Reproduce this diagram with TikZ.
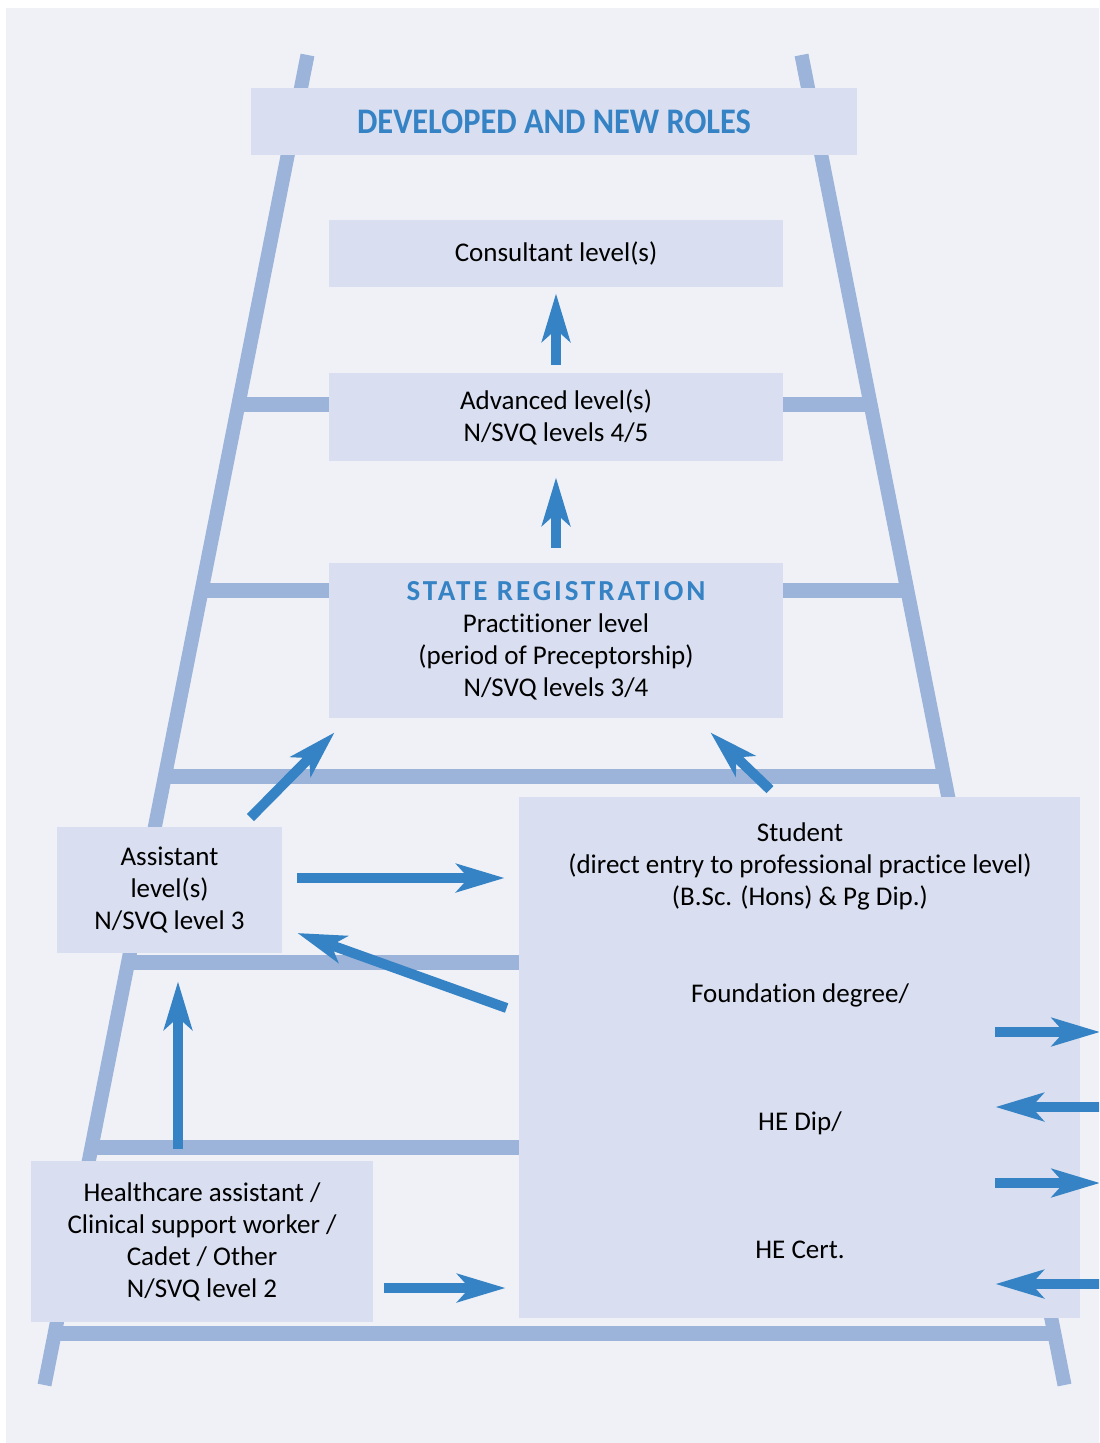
\documentclass[tikz,border=0pt]{standalone}
\usepackage{fontspec}
\setmainfont{Carlito}[Ligatures=NoCommon]
\newfontfamily\headfont[FakeStretch=0.9]{Carlito}
\newfontfamily\regfont[LetterSpace=10]{Carlito}
\usetikzlibrary{arrows.meta,calc,positioning}
\definecolor{paper}{HTML}{EFF1F7}
\definecolor{panel}{HTML}{D9DFF0}
\definecolor{rail}{HTML}{9CB3DA}
\definecolor{flow}{HTML}{3583C5}
\tikzset{
  every node/.style={font=\fontsize{13.5}{16}\selectfont,text=black},
  box/.style={fill=panel,align=center,inner sep=0pt},
  plain/.style={align=center,inner sep=0pt},
  railline/.style={draw=rail,line width=7pt},
  rungline/.style={draw=rail,line width=7.5pt},
  bigarr/.style={draw=flow,line width=5pt,-{Stealth[length=24pt,width=14pt,inset=6pt]}},
}
\begin{document}
\begin{tikzpicture}[x=0.5pt,y=-0.5pt]
\clip (0,0) rectangle (1099,1443);
\fill[paper] (6,8) rectangle (1099,1443);

% ---------- ladder ----------
\coordinate (lt) at (307.5,55);
\coordinate (lb) at (44.5,1385);
\coordinate (rt) at (801.5,55);
\coordinate (rb) at (1064.5,1385);
\foreach \y in {405,591,777,962.5,1148,1334}
  \draw[rungline] ($(lt)!{(\y-55)/1330}!(lb)$) -- ($(rt)!{(\y-55)/1330}!(rb)$);
\draw[railline] (lt) -- (lb);
\draw[railline] (rt) -- (rb);

% ---------- boxes ----------
\node[box,minimum width=303pt,minimum height=33.5pt] (title) at (554,121.5)
  {\headfont\bfseries\fontsize{18}{20}\selectfont\color{flow}DEVELOPED AND NEW ROLES};
\node[box,minimum width=227pt,minimum height=33.5pt] (cons) at (556,253.5) {Consultant level(s)};
\node[box,minimum width=227pt,minimum height=44pt] (adv) at (556,417) {Advanced level(s)\\N/SVQ levels 4/5};
\node[box,minimum width=227pt,minimum height=77.5pt] (reg) at (556,640.5)
  {{\regfont\bfseries\fontsize{14.5}{16}\selectfont\color{flow}STATE REGISTRATION}\\Practitioner level\\(period of Preceptorship)\\N/SVQ levels 3/4};
\node[box,minimum width=112.5pt,minimum height=63pt] (asst) at (169.5,890) {Assistant\\level(s)\\N/SVQ level 3};
\node[box,minimum width=280.5pt,minimum height=260.5pt] (stud) at (799.5,1057.5) {};
\node[box,minimum width=171pt,minimum height=80.5pt] (hca) at (202,1241.5)
  {Healthcare assistant /\\Clinical support worker /\\Cadet / Other\\N/SVQ level 2};

\node[plain] (studtop) at (800,866) {Student\\(direct entry to professional practice level)\\(B.Sc. (Hons) \& Pg Dip.)};
\node[plain,anchor=base] (fd) at (800,1002) {Foundation degree/};
\node[plain,anchor=base] (hedip) at (800,1130) {HE Dip/};
\node[plain,anchor=base] (hecert) at (800,1258) {HE Cert.};

% ---------- arrows ----------
\draw[bigarr,shorten <=4pt,shorten >=3pt] (adv.north) -- (cons.south);
\draw[bigarr,shorten <=7.5pt,shorten >=8pt] (reg.north) -- (adv.south);
\draw[bigarr] ($(asst.north east)+(-32,-9)$) -- ($(reg.south west)+(6,14)$);
\draw[bigarr] ($(stud.north)+(-29.5,-7)$) -- ($(reg.south east)+(-73,14)$);
\draw[bigarr] ($(asst.east)+(15,-12)$) -- ($(stud.west)+(-14,-179.5)$);
\draw[bigarr] ($(stud.west)+(-12,-49.5)$) -- ($(asst.east)+(15,43)$);
\draw[bigarr] ($(hca.north)+(-24,-12)$) -- ($(asst.south)+(8.5,28)$);
\draw[bigarr] ($(hca.east)+(11,46.5)$) -- ($(stud.west)+(-13,230.5)$);

\coordinate (out1) at (1100,1032);
\coordinate (in1) at (1110,1107);
\coordinate (out2) at (1100,1183);
\coordinate (in2) at (1110,1284);
\draw[bigarr] ($(stud.east)+(-85,-25.5)$) -- (out1);
\draw[bigarr] (in1) -- ($(stud.east)+(-85,49.5)$);
\draw[bigarr] ($(stud.east)+(-85,125.5)$) -- (out2);
\draw[bigarr] (in2) -- ($(stud.east)+(-85,226.5)$);
\end{tikzpicture}
\end{document}
